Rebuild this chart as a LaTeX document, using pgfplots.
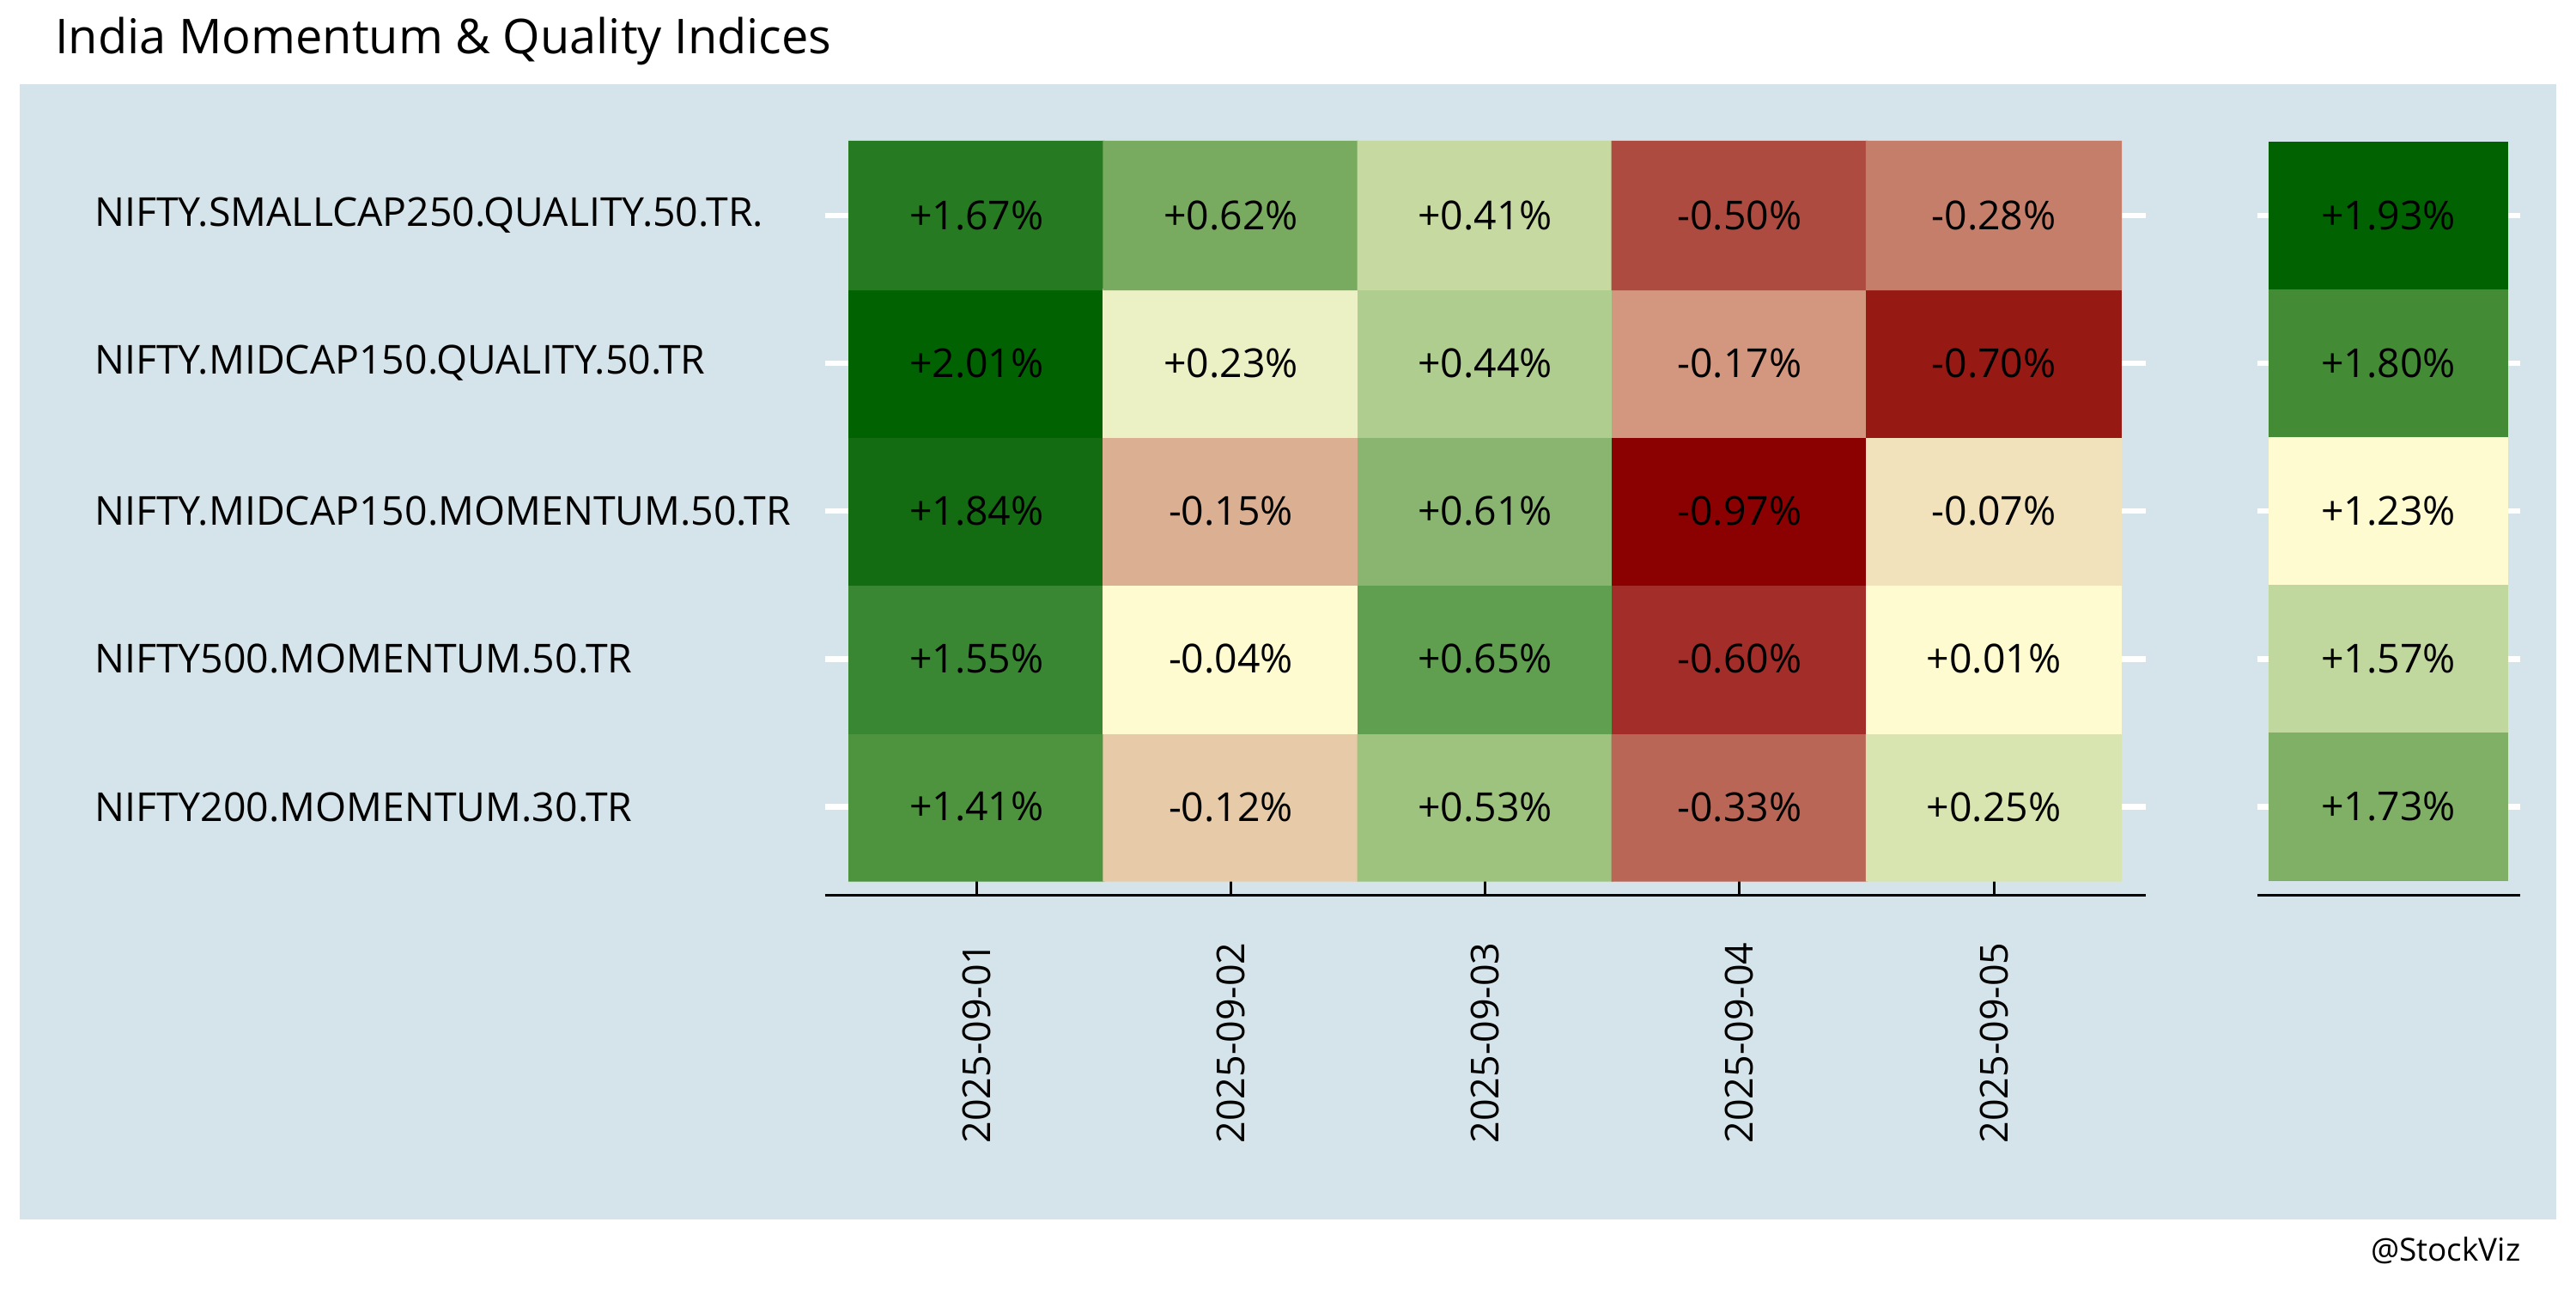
\documentclass[border=0pt]{standalone}
\usepackage{pgfplots}
\pgfplotsset{compat=1.18}
\usepackage{pgfplotstable}
\usepackage{fontspec}
\setmainfont{Open Sans}

\definecolor{panel}{HTML}{D5E4EB}
% daily cells, row y, column x
\definecolor{a00}{HTML}{4E943F}\definecolor{a10}{HTML}{E7CAA8}\definecolor{a20}{HTML}{9EC37F}\definecolor{a30}{HTML}{B96657}\definecolor{a40}{HTML}{D8E5B0}
\definecolor{a01}{HTML}{3A8733}\definecolor{a11}{HTML}{FFFBD1}\definecolor{a21}{HTML}{609F50}\definecolor{a31}{HTML}{A22D29}\definecolor{a41}{HTML}{FFFBD1}
\definecolor{a02}{HTML}{146C12}\definecolor{a12}{HTML}{DBAF92}\definecolor{a22}{HTML}{89B571}\definecolor{a32}{HTML}{8B0000}\definecolor{a42}{HTML}{F2E2BB}
\definecolor{a03}{HTML}{006200}\definecolor{a13}{HTML}{EBF0C5}\definecolor{a23}{HTML}{AFCD8F}\definecolor{a33}{HTML}{D3967E}\definecolor{a43}{HTML}{961914}
\definecolor{a04}{HTML}{267A21}\definecolor{a14}{HTML}{78AB5F}\definecolor{a24}{HTML}{C5D9A0}\definecolor{a34}{HTML}{AD4B40}\definecolor{a44}{HTML}{C47E69}
% weekly column
\definecolor{r0}{HTML}{7FB066}\definecolor{r1}{HTML}{C0D79E}\definecolor{r2}{HTML}{FFFBD1}\definecolor{r3}{HTML}{438B35}\definecolor{r4}{HTML}{006200}

\pgfplotstableread{
x y c v
0 0 color=a00 1.41
1 0 color=a10 -0.12
2 0 color=a20 0.53
3 0 color=a30 -0.33
4 0 color=a40 0.25
0 1 color=a01 1.55
1 1 color=a11 -0.04
2 1 color=a21 0.65
3 1 color=a31 -0.60
4 1 color=a41 0.01
0 2 color=a02 1.84
1 2 color=a12 -0.15
2 2 color=a22 0.61
3 2 color=a32 -0.97
4 2 color=a42 -0.07
0 3 color=a03 2.01
1 3 color=a13 0.23
2 3 color=a23 0.44
3 3 color=a33 -0.17
4 3 color=a43 -0.70
0 4 color=a04 1.67
1 4 color=a14 0.62
2 4 color=a24 0.41
3 4 color=a34 -0.50
4 4 color=a44 -0.28
}\daily

\pgfplotstableread{
y v
0 1.73
1 1.57
2 1.23
3 1.80
4 1.93
}\weekly

\pgfplotsset{
  hm/.style={
    scale only axis, height=169.8pt, clip=false,
    ymin=-0.6, ymax=4.6,
    axis line style={draw=none},
    tick align=inside,
    ytick={0,...,4},
    ytick style={white, line width=1.2pt},
    tick label style={font=\fontsize{8.8}{10}\selectfont},
    /pgf/number format/assume math mode=true,
  },
  lbl/.style={
    draw=none, mark=none, point meta=explicit,
    nodes near coords={\pgfmathprintnumber[fixed,fixed zerofill,precision=2,showpos]{\pgfplotspointmeta}\%},
    every node near coord/.append style={anchor=center, text=black, font=\fontsize{8.8}{10}\selectfont},
  },
}

\begin{document}
\begin{tikzpicture}
\fill[white] (0,0) rectangle (569.06pt,-284.53pt);
\fill[panel] (4.35pt,-18.5pt) rectangle (564.7pt,-269.3pt);
\node[anchor=base west, inner sep=0pt, font=\fontsize{10.6}{12}\selectfont] at (12pt,-11.8pt) {India Momentum \& Quality Indices};
\node[anchor=base east, inner sep=0pt, font=\fontsize{7}{8}\selectfont] at (557pt,-278.5pt) {@StockViz};

\begin{axis}[hm,
  at={(182.2pt,-197.8pt)}, anchor=south west, width=291.8pt,
  xmin=-0.597, xmax=4.597,
  major tick length=5.44pt,
  xtick={0,...,4}, xtick pos=left,
  xticklabels={2025-09-01,2025-09-02,2025-09-03,2025-09-04,2025-09-05},
  xtick style={black, line width=0.55pt},
  xticklabel style={rotate=90, anchor=east, inner sep=0pt, font=\fontsize{8.5}{10}\selectfont},
  xticklabel shift=10.2pt,
  yticklabels={NIFTY200.MOMENTUM.30.TR,NIFTY500.MOMENTUM.50.TR,NIFTY.MIDCAP150.MOMENTUM.50.TR,NIFTY.MIDCAP150.QUALITY.50.TR,NIFTY.SMALLCAP250.QUALITY.50.TR.},
  yticklabel style={anchor=west, inner sep=0pt, xshift=-161.5pt},
]
\addplot[matrix plot*, mesh/cols=5, mesh/color input=explicit, point meta=explicit symbolic]
  table[x=x, y=y, meta=c] \daily;
\addplot[lbl] table[x=x, y=y, meta=v] \daily;
\draw[black, line width=0.5pt] (rel axis cs:0,0) -- (rel axis cs:1,0);
\end{axis}

\begin{axis}[hm,
  at={(498.6pt,-197.8pt)}, anchor=south west, width=58.06pt,
  xmin=-0.048, xmax=1.048,
  major tick length=2.5pt,
  xtick=\empty, yticklabels={},
]
\addplot[xbar, bar width=1, bar shift=0pt, fill=r0, draw=none] coordinates {(1,0)};
\addplot[xbar, bar width=1, bar shift=0pt, fill=r1, draw=none] coordinates {(1,1)};
\addplot[xbar, bar width=1, bar shift=0pt, fill=r2, draw=none] coordinates {(1,2)};
\addplot[xbar, bar width=1, bar shift=0pt, fill=r3, draw=none] coordinates {(1,3)};
\addplot[xbar, bar width=1, bar shift=0pt, fill=r4, draw=none] coordinates {(1,4)};
\addplot[lbl] table[x expr=0.5, y=y, meta=v] \weekly;
\draw[black, line width=0.5pt] (rel axis cs:0,0) -- (rel axis cs:1,0);
\end{axis}
\end{tikzpicture}
\end{document}
